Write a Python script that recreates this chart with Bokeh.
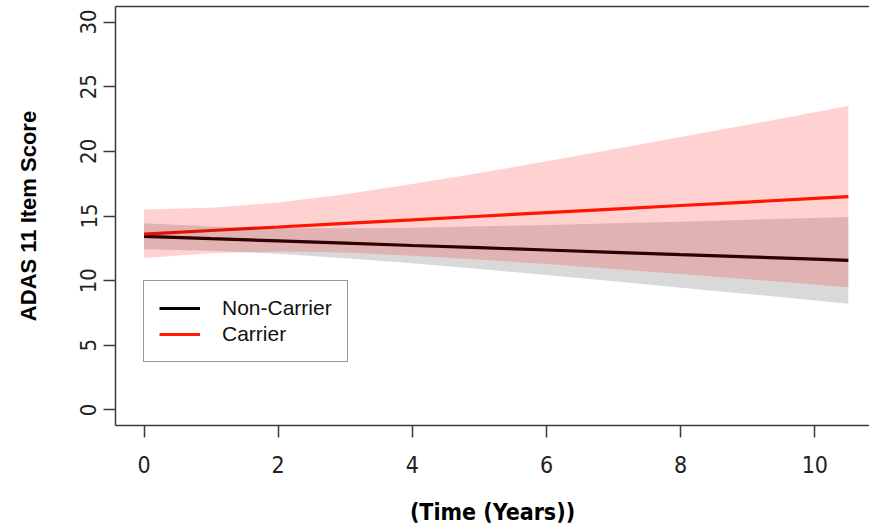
from bokeh.plotting import figure
from bokeh.models import LinearAxis, FixedTicker, Range1d, Legend, LegendItem, ColumnDataSource
from bokeh.embed import file_html
from bokeh.resources import INLINE

# Time points (years)
time = [0, 1, 2, 3, 4, 5, 6, 7, 8, 9, 10, 10.5]

# Non-Carrier fit and band
non_fit = [13.43, 13.25, 13.08, 12.90, 12.72, 12.55, 12.37, 12.19, 12.01, 11.84, 11.66, 11.57]
non_upper = [14.43, 14.19, 14.08, 14.06, 14.10, 14.20, 14.31, 14.43, 14.56, 14.71, 14.85, 14.92]
non_lower = [12.43, 12.31, 12.08, 11.74, 11.34, 10.90, 10.43, 9.95, 9.46, 8.97, 8.47, 8.22]

# Carrier fit and band
car_fit = [13.60, 13.88, 14.15, 14.43, 14.70, 14.98, 15.26, 15.53, 15.81, 16.08, 16.36, 16.50]
car_upper = [15.50, 15.64, 16.05, 16.69, 17.47, 18.33, 19.23, 20.16, 21.10, 22.05, 23.02, 23.50]
car_lower = [11.75, 12.12, 12.25, 12.17, 11.93, 11.63, 11.29, 10.90, 10.52, 10.11, 9.70, 9.50]

x_ticks = [0, 2, 4, 6, 8, 10]
y_ticks = [0, 5, 10, 15, 20, 25, 30]
series_names = ["Non-Carrier", "Carrier"]

src = ColumnDataSource(dict(t=time, nf=non_fit, nu=non_upper, nl=non_lower,
                            cf=car_fit, cu=car_upper, cl=car_lower))

p = figure(width=869, height=527, output_backend="svg", toolbar_location=None,
           x_range=Range1d(-0.425, 10.815), y_range=Range1d(-1.2, 31.2),
           x_axis_location=None, y_axis_location=None)
p.min_border_left = 115
p.min_border_right = 0
p.min_border_top = 6
p.min_border_bottom = 102
p.outline_line_color = None
p.grid.visible = False
p.background_fill_color = "white"
p.border_fill_color = "white"

frame_col = "#3a3a3a"
tick_font = "Liberation Sans Narrow, DejaVu Sans Condensed, Liberation Sans, sans-serif"

# lines first, then translucent bands on top (as in the reference)
l_non = p.line("t", "nf", source=src, line_color="black", line_width=3.2)
l_car = p.line("t", "cf", source=src, line_color="#ff1a00", line_width=3.2)
p.varea(x="t", y1="nl", y2="nu", source=src, fill_color="black", fill_alpha=0.15)
p.varea(x="t", y1="cl", y2="cu", source=src, fill_color="red", fill_alpha=0.18)

# left axis
ya = LinearAxis(ticker=FixedTicker(ticks=y_ticks))
ya.axis_label = "ADAS 11 Item Score"
ya.axis_label_text_font = "Liberation Sans"
ya.axis_label_text_font_style = "bold"
ya.axis_label_text_font_size = "22px"
ya.axis_label_text_color = "black"
ya.axis_label_standoff = 37
ya.major_label_orientation = "vertical"
ya.major_label_text_font = tick_font
ya.major_label_text_font_size = "22px"
ya.major_label_text_color = "#222222"
ya.major_label_standoff = 7
ya.major_tick_out = 12
ya.major_tick_in = 0
ya.minor_tick_out = 0
ya.minor_tick_in = 0
ya.axis_line_color = frame_col
ya.axis_line_width = 1.5
ya.major_tick_line_color = frame_col
ya.major_tick_line_width = 1.5
p.add_layout(ya, "left")

# bottom axis
xa = LinearAxis(ticker=FixedTicker(ticks=x_ticks))
xa.axis_label = "(Time (Years))"
xa.axis_label_text_font = tick_font
xa.axis_label_text_font_style = "bold"
xa.axis_label_text_font_size = "23px"
xa.axis_label_text_color = "black"
xa.axis_label_standoff = 23
xa.major_label_text_font = tick_font
xa.major_label_text_font_size = "23px"
xa.major_label_text_color = "#222222"
xa.major_label_standoff = 18
xa.major_tick_out = 12
xa.major_tick_in = 0
xa.minor_tick_out = 0
xa.minor_tick_in = 0
xa.axis_line_color = frame_col
xa.axis_line_width = 1.5
xa.major_tick_line_color = frame_col
xa.major_tick_line_width = 1.5
p.add_layout(xa, "below")

# top border (frame) as a bare axis line
ta = LinearAxis(ticker=FixedTicker(ticks=[]))
ta.major_label_text_font_size = "0px"
ta.major_tick_out = 0
ta.major_tick_in = 0
ta.minor_tick_out = 0
ta.minor_tick_in = 0
ta.axis_line_color = frame_col
ta.axis_line_width = 1.5
p.add_layout(ta, "above")

legend = Legend(items=[LegendItem(label=series_names[0], renderers=[l_non]),
                       LegendItem(label=series_names[1], renderers=[l_car])],
                location=(28, 63))
legend.label_text_font = "Liberation Sans"
legend.label_text_font_size = "21px"
legend.label_text_color = "#111111"
legend.padding = 15
legend.spacing = 2
legend.glyph_width = 41
legend.glyph_height = 20
legend.label_height = 20
legend.label_standoff = 22
legend.border_line_color = "#333333"
legend.border_line_width = 1.2
legend.background_fill_color = "white"
legend.background_fill_alpha = 1
legend.margin = 0
p.add_layout(legend, "center")

open("out.html", "w").write(file_html(p, INLINE))
